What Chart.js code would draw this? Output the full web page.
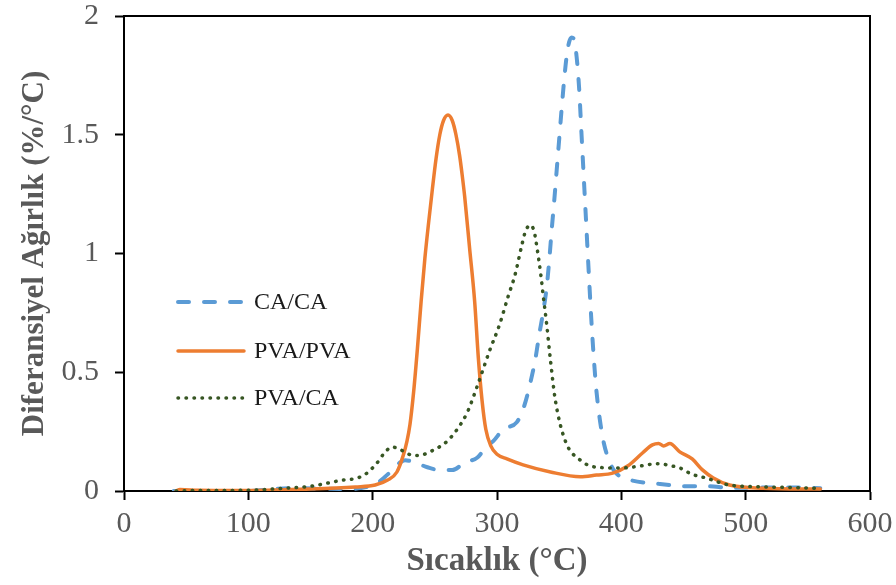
<!DOCTYPE html>
<html>
<head>
<meta charset="utf-8">
<script src="https://cdn.jsdelivr.net/npm/chart.js@4.4.1/dist/chart.umd.min.js"></script>
<style>
  html, body { margin: 0; padding: 0; background: #fff; }
  #wrap { width: 896px; height: 585px; position: relative; }
</style>
</head>
<body>
<div id="wrap"><canvas id="c" width="896" height="585"></canvas></div>
<script>
// ---- Data ----
const seriesNames = ["CA/CA", "PVA/PVA", "PVA/CA"];

const caX = [40, 100, 120, 140, 160, 180, 190, 202, 210, 218, 222, 226, 234, 244, 254, 264, 274, 284, 292, 297, 305, 316, 322, 327, 331, 334, 337, 340, 342, 344, 346, 348, 350, 352, 354, 356, 358, 360, 362, 364, 366, 368, 370, 372, 374, 376, 378, 380, 383, 386, 390, 395, 405, 430, 454, 470, 487, 514, 541, 560];
const caY = [0, 0, 0.008, 0.012, 0.01, 0.008, 0.012, 0.028, 0.06, 0.1, 0.12, 0.13, 0.12, 0.1, 0.088, 0.088, 0.12, 0.14, 0.19, 0.21, 0.26, 0.29, 0.36, 0.46, 0.56, 0.66, 0.75, 0.86, 0.97, 1.1, 1.22, 1.35, 1.48, 1.61, 1.73, 1.83, 1.89, 1.91, 1.9, 1.83, 1.7, 1.5, 1.3, 1.1, 0.9, 0.71, 0.55, 0.42, 0.29, 0.2, 0.13, 0.08, 0.05, 0.03, 0.02, 0.02, 0.013, 0.015, 0.015, 0.012];

const pvaX = [42, 45, 60, 100, 150, 186, 202, 212, 219.5, 224.6, 227.6, 230, 233, 236, 239, 242, 245, 248, 251, 254, 257, 260.6, 264, 267, 270, 272, 274, 278, 282, 285, 288, 291, 295, 300, 308, 321, 343, 367, 380, 393, 405, 417, 425, 430, 434, 439, 447, 457, 465, 474, 487, 514, 560];
const pvaY = [0, 0.006, 0.003, 0.002, 0.008, 0.017, 0.025, 0.046, 0.08, 0.15, 0.21, 0.28, 0.42, 0.6, 0.8, 0.98, 1.13, 1.27, 1.4, 1.5, 1.56, 1.583, 1.56, 1.5, 1.41, 1.33, 1.24, 1.02, 0.8, 0.56, 0.38, 0.26, 0.19, 0.155, 0.135, 0.11, 0.08, 0.06, 0.067, 0.075, 0.105, 0.16, 0.194, 0.2, 0.19, 0.2, 0.165, 0.135, 0.09, 0.055, 0.025, 0.012, 0.008];

const pcaX = [42, 60, 100, 130, 150, 176, 188, 195.5, 203.5, 210, 215.6, 220, 226, 232, 237, 248, 260, 268, 276, 284, 294, 302, 309, 314.5, 320, 323, 327, 330, 332, 335.5, 337, 340, 343, 347, 355, 367, 380, 401, 415, 429, 441, 447, 457, 468, 487, 517, 554, 560];
const pcaY = [0, 0.002, 0.003, 0.012, 0.02, 0.046, 0.055, 0.076, 0.118, 0.164, 0.185, 0.18, 0.164, 0.15, 0.15, 0.17, 0.21, 0.26, 0.33, 0.44, 0.59, 0.7, 0.82, 0.91, 1.036, 1.095, 1.12, 1.09, 1.03, 0.9, 0.83, 0.7, 0.55, 0.38, 0.21, 0.13, 0.1, 0.097, 0.105, 0.115, 0.105, 0.097, 0.07, 0.055, 0.025, 0.017, 0.012, 0.01];

const xTickValues = [0, 100, 200, 300, 400, 500, 600];
const yTickValues = [0, 0.5, 1, 1.5, 2];
const xTitle = "Sıcaklık (°C)";
const yTitle = "Diferansiyel Ağırlık (%/°C)";

// ---- Styles ----
const COLORS = ["#5B9BD5", "#ED7D31", "#375623"];
const DASHES = [[11, 15], [], [0.5, 7.5]];
const WIDTHS = [4, 3.5, 3.5];
const SERIF = "'Liberation Serif', 'Times New Roman', serif";

const zip = (xs, ys) => xs.map((x, i) => ({ x: x, y: ys[i] }));

const datasets = [
  { label: seriesNames[0], data: zip(caX, caY), order: 3 },
  { label: seriesNames[1], data: zip(pvaX, pvaY), order: 2 },
  { label: seriesNames[2], data: zip(pcaX, pcaY), order: 1 }
].map((d, i) => Object.assign(d, {
  borderColor: COLORS[i],
  backgroundColor: COLORS[i],
  borderWidth: WIDTHS[i],
  borderDash: DASHES[i],
  borderCapStyle: "round",
  borderJoinStyle: "round",
  pointRadius: 0,
  fill: false,
  cubicInterpolationMode: "monotone"
}));

const framePlugin = {
  id: "frame",
  afterDraw(chart) {
    const { ctx, chartArea: a } = chart;
    ctx.save();
    ctx.strokeStyle = "#000";
    ctx.lineWidth = 2;
    ctx.beginPath();
    ctx.moveTo(a.left, a.top);
    ctx.lineTo(a.right, a.top);
    ctx.lineTo(a.right, a.bottom);
    ctx.stroke();
    // legend
    const ys = [302, 351, 398];
    const x0 = 178, x1 = 244;
    ys.forEach((y, i) => {
      const ds = chart.data.datasets[i];
      ctx.beginPath();
      ctx.setLineDash(ds.borderDash);
      ctx.lineCap = "round";
      ctx.lineWidth = ds.borderWidth;
      ctx.strokeStyle = ds.borderColor;
      ctx.moveTo(x0, y);
      ctx.lineTo(x1, y);
      ctx.stroke();
      ctx.setLineDash([]);
      ctx.fillStyle = "#1a1a1a";
      ctx.font = "24px " + SERIF;
      ctx.textBaseline = "middle";
      ctx.textAlign = "left";
      ctx.fillText(ds.label, 254, y + 1);
    });
    ctx.restore();
  }
};

function zeroPad(s) { s.paddingTop = 0; s.paddingBottom = 0; s.paddingLeft = 0; s.paddingRight = 0; }

new Chart(document.getElementById("c"), {
  type: "line",
  data: { datasets: datasets },
  options: {
    responsive: false,
    animation: false,
    layout: { padding: { top: 16, right: 26, left: 0, bottom: 0 } },
    plugins: { legend: { display: false }, tooltip: { enabled: false } },
    scales: {
      x: {
        type: "linear",
        min: 0, max: 600,
        afterFit(s) { s.height = 94; zeroPad(s); },
        afterBuildTicks(s) { s.ticks = xTickValues.map(v => ({ value: v })); },
        grid: { drawOnChartArea: false, drawTicks: true, tickLength: 9, tickColor: "#000", tickWidth: 2 },
        border: { display: true, color: "#000", width: 2 },
        ticks: { color: "#595959", font: { family: SERIF, size: 30 }, padding: 6, maxRotation: 0 },
        title: { display: true, text: xTitle, color: "#595959", font: { family: SERIF, size: 33, weight: "bold" }, padding: { top: 4, bottom: 4 } }
      },
      y: {
        type: "linear",
        min: 0, max: 2,
        afterFit(s) { s.width = 124; zeroPad(s); },
        afterBuildTicks(s) { s.ticks = yTickValues.map(v => ({ value: v })); },
        grid: { drawOnChartArea: false, drawTicks: true, tickLength: 9, tickColor: "#000", tickWidth: 2 },
        border: { display: true, color: "#000", width: 2 },
        ticks: { color: "#595959", font: { family: SERIF, size: 30 }, padding: 16, callback: v => String(v) },
        title: { display: true, text: yTitle, color: "#595959", font: { family: SERIF, size: 31, weight: "bold" }, padding: { top: 16, bottom: 0 } }
      }
    }
  },
  plugins: [framePlugin]
});
</script>
</body>
</html>
